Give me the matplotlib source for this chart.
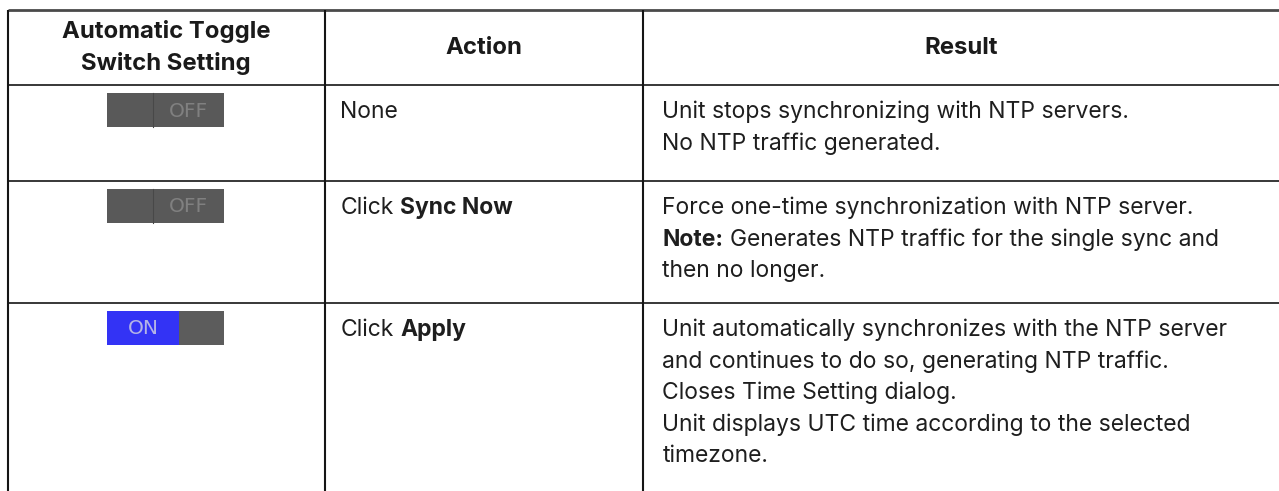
import matplotlib
matplotlib.use("Agg")
import matplotlib.pyplot as plt
from matplotlib.patches import Rectangle

# ---------------- data ----------------
headers = [["Automatic Toggle", "Switch Setting"], ["Action"], ["Result"]]
toggle_states = ["OFF", "OFF", "ON"]
actions = [
    [[("None", "normal")]],
    [[("Click ", "normal"), ("Sync Now", "bold")]],
    [[("Click ", "normal"), ("Apply", "bold")]],
]
results = [
    [[("Unit stops synchronizing with NTP servers.", "normal")],
     [("No NTP traffic generated.", "normal")]],
    [[("Force one-time synchronization with NTP server.", "normal")],
     [("Note:", "bold"), (" Generates NTP traffic for the single sync and", "normal")],
     [("then no longer.", "normal")]],
    [[("Unit automatically synchronizes with the NTP server", "normal")],
     [("and continues to do so, generating NTP traffic.", "normal")],
     [("Closes Time Setting dialog.", "normal")],
     [("Unit displays UTC time according to the selected", "normal")],
     [("timezone.", "normal")]],
]

# ---------------- layout ----------------
W, H = 1279, 491
FONT = "Inter"
FS = 16.5
HFS = 17.2
col_x = [7.5, 324.5, 642.5, W]
row_y = [10, 85, 181, 303, H]
line_h = 31.5
first_off = 27

fig = plt.figure(figsize=(W / 100, H / 100), dpi=100)
ax = fig.add_axes([0, 0, 1, 1])
ax.set_xlim(0, W)
ax.set_ylim(H, 0)
ax.axis("off")
fig.patch.set_facecolor("white")

renderer = fig.canvas.get_renderer()


def text_width(s, weight, size):
    t = ax.text(0, 0, s, fontsize=size, fontweight=weight, family=FONT)
    bb = t.get_window_extent(renderer=renderer)
    t.remove()
    return bb.width


def draw_rich(x, y, segments, size=FS):
    cx = x
    for s, w in segments:
        lead = len(s) - len(s.lstrip(" "))
        trail = len(s) - len(s.rstrip(" "))
        sp = text_width("a a", w, size) - text_width("aa", w, size)
        core = s.strip(" ")
        cx += lead * sp
        ax.text(cx, y, core, fontsize=size, fontweight=w, family=FONT,
                va="center", ha="left", color="#1e1e1e")
        cx += text_width(core, w, size) + trail * sp


# grid lines
ax.plot([col_x[0], W], [row_y[0], row_y[0]], color="#4a4a4a", lw=2.0, solid_capstyle="butt")
for y in row_y[1:4]:
    ax.plot([col_x[0], W], [y, y], color="#151515", lw=1.2, solid_capstyle="butt")
for x in col_x[:3]:
    ax.plot([x, x], [row_y[0], H], color="#151515", lw=1.5, solid_capstyle="butt")

# headers
hy0 = (row_y[0] + row_y[1]) / 2
for i, lines in enumerate(headers):
    cx = (col_x[i] + col_x[i + 1]) / 2
    n = len(lines)
    for j, ln in enumerate(lines):
        y = hy0 + (j - (n - 1) / 2) * 32
        ax.text(cx, y, ln, fontsize=HFS, fontweight="bold", family=FONT,
                ha="center", va="center", color="#1a1a1a")

# toggles
tx0, tx1 = 107, 224
th = 34
for r, state in enumerate(toggle_states):
    ty = row_y[r + 1] + 8
    if state == "OFF":
        ax.add_patch(Rectangle((tx0, ty), tx1 - tx0, th, facecolor="#595959", edgecolor="none"))
        ax.plot([153, 153], [ty, ty + th], color="#484848", lw=0.8)
        ax.text((153 + tx1) / 2, ty + th / 2 + 1, "OFF", fontsize=14.5, family="DejaVu Sans",
                color="#808080", ha="center", va="center")
    else:
        mid = 179
        ax.add_patch(Rectangle((tx0, ty), mid - tx0, th, facecolor="#3333f5", edgecolor="none"))
        ax.add_patch(Rectangle((mid, ty), tx1 - mid, th, facecolor="#5c5c5c", edgecolor="none"))
        ax.text((tx0 + mid) / 2, ty + th / 2 + 1, "ON", fontsize=14.5, family="DejaVu Sans",
                color="#b4b4e6", ha="center", va="center")

# action + result text
for r in range(3):
    base = row_y[r + 1] + first_off
    for j, segs in enumerate(actions[r]):
        draw_rich(col_x[1] + 16, base + j * line_h, segs)
    for j, segs in enumerate(results[r]):
        draw_rich(col_x[2] + 20, base + j * line_h, segs)

fig.savefig("out.png", dpi=100, facecolor="white")
